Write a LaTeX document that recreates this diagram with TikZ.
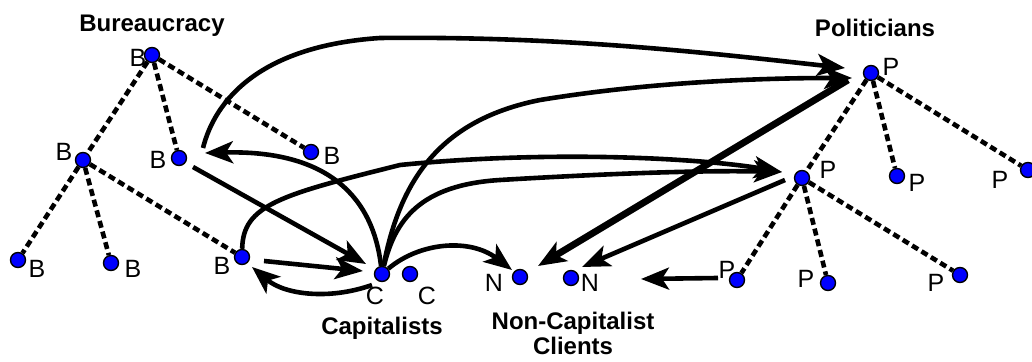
\documentclass[tikz,border=0pt]{standalone}
\usepackage{fontspec}
\setmainfont{Liberation Sans}
\usepackage{tikz}
\usetikzlibrary{arrows.meta}
\definecolor{dotblue}{HTML}{0000FF}

\begin{document}
\begin{tikzpicture}[
  x=0.5pt,y=-0.5pt,
  dot/.style={circle,draw=black,line width=0.7pt,fill=dotblue,inner sep=0pt,
              minimum size=7.5pt},
  lbl/.style={inner sep=0pt,font=\fontsize{12.5}{13}\selectfont},
  title/.style={inner sep=0pt,align=center,font=\fontsize{12}{12.5}\selectfont\bfseries},
  tie/.style={line width=2.3pt,dash pattern=on 3.5pt off 2pt},
  arr/.style={-{Stealth[length=14pt,width=11pt,inset=3.5pt]},line width=2.3pt},
  heavy/.style={arr,line width=3.4pt}
]
\useasboundingbox (0,0) rectangle (1032,362);
\node[title,anchor=base] (bureau) at (152,32) {Bureaucracy};
\node[title,anchor=base] (polit) at (875,37) {Politicians};
\node[title,anchor=base] (capit) at (382,335) {Capitalists};
\node[title] (clients) at (573,333) {Non-Capitalist\\Clients};
\node[dot] (b1) at (152,55) {};
\node[dot] (b2) at (83,160) {};
\node[dot] (b3) at (179,158) {};
\node[dot] (b4) at (311,152) {};
\node[dot] (b5) at (18,260) {};
\node[dot] (b6) at (111,263) {};
\node[dot] (b7) at (242,257) {};
\node[dot] (c1) at (382,274) {};
\node[dot] (c2) at (410,274) {};
\node[dot] (n1) at (520,277) {};
\node[dot] (n2) at (571,278) {};
\node[dot] (p1) at (871,73) {};
\node[dot] (p2) at (802,178) {};
\node[dot] (p3) at (897,176) {};
\node[dot] (p4) at (1028,170) {};
\node[dot] (p5) at (737,280) {};
\node[dot] (p6) at (828,283) {};
\node[dot] (p7) at (960,275) {};
\node[lbl] (lb1) at (138,58) {B};
\node[lbl] (lb2) at (64,152) {B};
\node[lbl] (lb3) at (158,160) {B};
\node[lbl] (lb4) at (332,156) {B};
\node[lbl] (lb5) at (37,269) {B};
\node[lbl] (lb6) at (133,269) {B};
\node[lbl] (lb7) at (222,266) {B};
\node[lbl] (lc1) at (375,296) {C};
\node[lbl] (lc2) at (427,296) {C};
\node[lbl] (ln1) at (494,283) {N};
\node[lbl] (ln2) at (590,283) {N};
\node[lbl] (lp1) at (891,67) {P};
\node[lbl] (lp2) at (828,170) {P};
\node[lbl] (lp3) at (917,183) {P};
\node[lbl] (lp4) at (1000,180) {P};
\node[lbl] (lp5) at (727,270) {P};
\node[lbl] (lp6) at (806,279) {P};
\node[lbl] (lp7) at (936,283) {P};
\draw[tie] (b1) -- (b2);
\draw[tie] (b1) -- (b3);
\draw[tie] (b1) -- (b4);
\draw[tie] (b2) -- (b5);
\draw[tie] (b2) -- (b6);
\draw[tie] (b2) -- (b7);
\draw[tie] (p1) -- (p2);
\draw[tie] (p1) -- (p3);
\draw[tie] (p1) -- (p4);
\draw[tie] (p2) -- (p5);
\draw[tie] (p2) -- (p6);
\draw[tie] (p2) -- (p7);
\draw[arr] ([shift={(24,-10)}]b3.center) .. controls (215,100) and (260,46) .. (380,38)
  .. controls (560,36) and (700,52) .. ([shift={(-26,-5)}]p1.center);
\draw[arr] (c1) .. controls (400,180) and (440,120) .. (540,100)
  .. controls (650,82) and (760,78) .. ([shift={(-19,5)}]p1.center);
\draw[heavy] ([shift={(-23,7)}]p1.center) -- ([shift={(18,-11)}]n1.center);
\draw[arr] (b7) .. controls (243,205) and (280,195) .. (400,165)
  .. controls (550,150) and (700,158) .. ([shift={(-20,-6)}]p2.center);
\draw[arr] (c1) .. controls (395,220) and (420,185) .. (500,180)
  .. controls (600,174) and (700,170) .. ([shift={(-20,-6)}]p2.center);
\draw[arr] (c1) .. controls (372,190) and (320,150) .. ([shift={(26,-5)}]b3.center);
\draw[arr] ([shift={(14,9)}]b3.center) -- ([shift={(-16,-10)}]c1.center);
\draw[arr] ([shift={(22,4)}]b7.center) -- ([shift={(-19,-3)}]c1.center);
\draw[arr] ([shift={(-10,11)}]c1.center) .. controls (330,300) and (285,295) .. ([shift={(10,10)}]b7.center);
\draw[arr] (c1) .. controls (420,242) and (470,238) .. ([shift={(-8,-7)}]n1.center);
\draw[arr] ([shift={(-17,2)}]p2.center) -- ([shift={(11,-11)}]n2.center);
\draw[arr] ([shift={(-19,-2)}]p5.center) -- ([shift={(70,1)}]n2.center);
\end{tikzpicture}
\end{document}
